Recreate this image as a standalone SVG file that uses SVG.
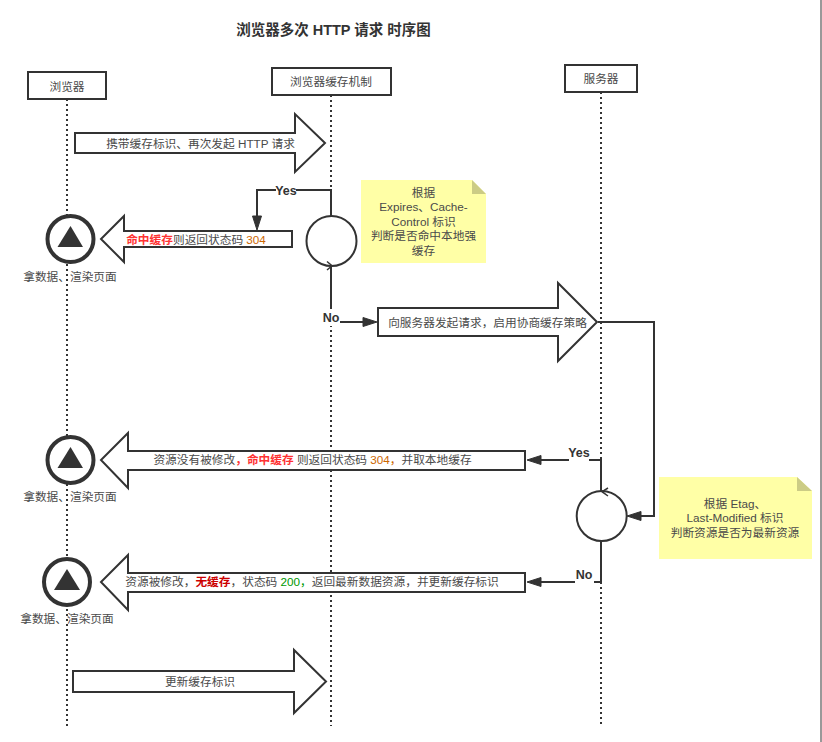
<svg xmlns="http://www.w3.org/2000/svg" width="822" height="742" viewBox="0 0 822 742">
<style>
text{font-family:"Liberation Sans","Noto Sans CJK SC",sans-serif;font-size:11.7px;fill:#4a4a4a;text-anchor:middle}
.box{fill:#fff;stroke:#333;stroke-width:2}
.arrow{fill:#fff;stroke:#333;stroke-width:2;stroke-linejoin:miter}
.life{fill:none;stroke:#333;stroke-width:2;stroke-dasharray:2 3}
.conn{fill:none;stroke:#333;stroke-width:2}
.head{fill:#333;stroke:#333;stroke-width:1}
.open{fill:none;stroke:#333;stroke-width:1.5}
.note{fill:#ffffa6}
.fold{fill:#cccc85}
.gate{fill:#fff;stroke:#333;stroke-width:2}
.end{fill:#fff;stroke:#333;stroke-width:4}
.tri{fill:#333}
.wipe{fill:#fff}
.lbl{font-weight:700;font-size:12.500px;fill:#333}
.red{fill:#f33;font-weight:700}
.dred{fill:#c00;font-weight:700}
.org{fill:#c60}
.grn{fill:#090}
</style>
<rect width="822" height="742" fill="#fff"/>
<rect x="820" y="0" width="2" height="742" fill="#999"/>
<text id="title" x="333.500" y="35" style="font-size:14.500px;font-weight:700;fill:#333">浏览器多次 HTTP 请求 时序图</text>
<g id="connectors">
<path class="life" d="M67 99V726"/>
<path class="life" d="M331 95V726"/>
<path class="life" d="M601 92V726"/>
<path class="conn" d="M331 216V190H257V216"/>
<path class="head" d="M257 230L252.500 216H261.500Z"/>
<path class="conn" d="M331 266V322H363"/>
<path class="head" d="M377 322L363 317.500V326.500Z"/>
<path class="conn" d="M598 322H654V516H641"/>
<path class="head" d="M627 516L641 511.500V520.500Z"/>
<path class="conn" d="M601 491V460H541"/>
<path class="head" d="M527 460L541 455.500V464.500Z"/>
<path class="conn" d="M601 541V582H541"/>
<path class="head" d="M527 582L541 577.500V586.500Z"/>
<rect class="wipe" x="276" y="183" width="20" height="14"/>
<text class="lbl" x="286" y="195">Yes</text>
<rect class="wipe" x="321" y="309" width="19" height="17"/>
<text class="lbl" x="331" y="322">No</text>
<rect class="wipe" x="569" y="446" width="20" height="16"/>
<text class="lbl" x="579" y="457">Yes</text>
<rect class="wipe" x="575" y="567" width="19" height="17"/>
<text class="lbl" x="584" y="579">No</text>
</g>
<g id="browser"><rect class="box" x="28" y="72" width="78" height="27"/><text x="67" y="91">浏览器</text></g>
<g id="cache"><rect class="box" x="272" y="68" width="119" height="27"/><text x="331" y="86">浏览器缓存机制</text></g>
<g id="server"><rect class="box" x="565" y="65" width="72" height="27"/><text x="601" y="83">服务器</text></g>
<g id="req1"><path class="arrow" d="M75 133H295V114L325 143L295 172V153H75Z"/><text x="200.500" y="148">携带缓存标识、再次发起 HTTP 请求</text></g>
<g id="hit1"><path class="arrow" d="M292 231H124V216L101 239L124 262V247H292Z"/><text x="196" y="244"><tspan class="red">命中缓存</tspan>则返回状态码 <tspan class="org">304</tspan></text></g>
<g id="gate1"><circle class="gate" cx="331.500" cy="241" r="25"/><path class="open" d="M327 261.500L332 265.700L327 270"/></g>
<g id="end1"><circle class="end" cx="70.500" cy="239" r="23"/><path class="tri" d="M70.500 226L83 247H57.500Z"/><text x="70" y="281">拿数据、渲染页面</text></g>
<g id="note1"><path class="note" d="M361 180H472L486 194V263H361Z"/><path class="fold" d="M472 180L486 194H472Z"/><text x="423.500" y="197">根据</text><text x="423.500" y="211">Expires、Cache-</text><text x="423.500" y="226">Control 标识</text><text x="423.500" y="240">判断是否命中本地强</text><text x="423.500" y="255">缓存</text></g>
<g id="req2"><path class="arrow" d="M378 308H558V283L597 322L558 361V336H378Z"/><text x="487.500" y="327">向服务器发起请求，启用协商缓存策略</text></g>
<g id="hit2"><path class="arrow" d="M525 451H128V433L101 460L128 488V470H525Z"/><text x="312.500" y="464">资源没有被修改<tspan class="red">，命中缓存</tspan> 则返回状态码 <tspan class="org">304，</tspan>并取本地缓存</text></g>
<g id="end2"><circle class="end" cx="70.500" cy="460" r="23"/><path class="tri" d="M70.500 447L83 468H57.500Z"/><text x="70" y="501">拿数据、渲染页面</text></g>
<g id="gate2"><circle class="gate" cx="601.700" cy="516" r="25"/><path class="open" d="M608 488L602 491.700L608 496"/></g>
<g id="note2"><path class="note" d="M659 477H797L812 491V559H659Z"/><path class="fold" d="M797 477L812 491H797Z"/><text x="735" y="508">根据 Etag、</text><text x="735" y="522">Last-Modified 标识</text><text x="735" y="537">判断资源是否为最新资源</text></g>
<g id="miss"><path class="arrow" d="M525 573H128V555L101 582L128 610V592H525Z"/><text x="312" y="586">资源被修改，<tspan class="dred">无缓存</tspan>，状态码 <tspan class="grn">200，</tspan>返回最新数据资源，并更新缓存标识</text></g>
<g id="end3"><circle class="end" cx="67" cy="582" r="23"/><path class="tri" d="M67 569L80 590H54Z"/><text x="67" y="623">拿数据、渲染页面</text></g>
<g id="update"><path class="arrow" d="M73 671H294V650L326 681.500L294 713V692H73Z"/><text x="200" y="686">更新缓存标识</text></g>
</svg>
